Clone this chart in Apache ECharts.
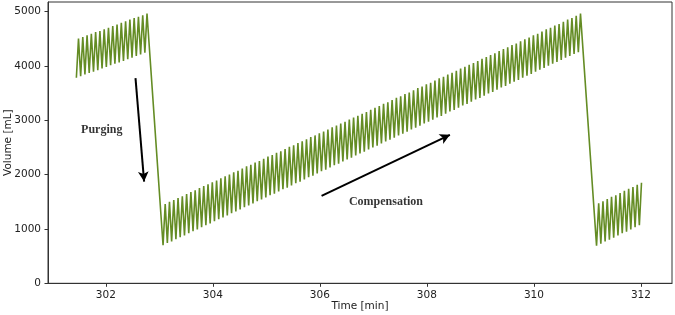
<!DOCTYPE html>
<html><head><meta charset="utf-8">
<script src="https://cdn.jsdelivr.net/npm/echarts@6/dist/echarts.min.js"></script>
<style>html,body{margin:0;padding:0;background:#fff}#c{width:675px;height:315px}</style>
</head><body><div id="c"></div>
<script>
// Sawtooth volume data (trough / peak of each cycle)
const seg1Troughs=[3780,3810,3840,3870,3890,3920,3950,3980,4010,4040,4060,4090,4120,4150,4180,4210,4240];
const seg1Peaks=[4500,4530,4560,4590,4620,4640,4670,4700,4730,4760,4790,4820,4850,4880,4900,4930,4960];
const seg2Troughs=[700,740,770,810,850,880,920,960,990,1030,
1070,1100,1140,1180,1210,1250,1290,1320,1360,1400,
1430,1470,1510,1540,1580,1620,1650,1690,1730,1760,
1800,1840,1870,1910,1950,1980,2020,2060,2090,2130,
2170,2200,2240,2280,2310,2350,2390,2420,2460,2500,
2530,2570,2610,2640,2680,2720,2750,2790,2830,2860,
2900,2940,2970,3010,3050,3080,3120,3160,3190,3230,
3270,3300,3340,3380,3410,3450,3490,3520,3560,3600,
3630,3670,3710,3740,3780,3820,3850,3890,3930,3960,
4000,4040,4070,4110,4150,4180,4220,4250];
const seg2Peaks=[1460,1500,1530,1570,1600,1640,1680,1710,1750,1790,
1820,1860,1890,1930,1970,2000,2040,2070,2110,2150,
2180,2220,2250,2290,2330,2360,2400,2430,2470,2510,
2540,2580,2610,2650,2690,2720,2760,2790,2830,2870,
2900,2940,2970,3010,3050,3080,3120,3150,3190,3230,
3260,3300,3330,3370,3410,3440,3480,3510,3550,3590,
3620,3660,3690,3730,3770,3800,3840,3870,3910,3950,
3980,4020,4050,4090,4130,4160,4200,4230,4270,4310,
4340,4380,4410,4450,4490,4520,4560,4590,4630,4670,
4700,4740,4770,4810,4850,4880,4920,4960];
const seg3Troughs=[690,730,770,800,840,880,920,950,990,1030,1070];
const seg3Peaks=[1470,1510,1550,1590,1620,1660,1700,1740,1770,1810,1850];
const segStartTimes=[301.45,303.07,311.17]; // time of first trough in each segment [min]
const cyclePeriod=0.08; // min per pump cycle

const xTicks=[302,304,306,308,310,312];
const yTicks=[0,1000,2000,3000,4000,5000];

const annotTexts=[{name:'Purging',t:301.925,v:2823},{name:'Compensation',t:307.234,v:1497}];
const arrows=[[[302.555,3775],[302.716,1871]],[[306.032,1608],[308.430,2731]]];

const segs=[[seg1Troughs,seg1Peaks],[seg2Troughs,seg2Peaks],[seg3Troughs,seg3Peaks]];
const data=[];
segs.forEach((s,si)=>{
  const t0=segStartTimes[si];
  for(let i=0;i<s[0].length;i++){
    data.push([+(t0+i*cyclePeriod).toFixed(3),s[0][i]]);
    data.push([+(t0+i*cyclePeriod+cyclePeriod/2).toFixed(3),s[1][i]]);
  }
});

const axisCol='#333';
const font='DejaVu Sans';
const fs=10.5;
const chart=echarts.init(document.getElementById('c'),null,{renderer:'canvas'});
chart.setOption({
  animation:false,
  grid:{left:48,right:3,top:2,bottom:31.7,show:true,borderColor:axisCol,borderWidth:1,backgroundColor:'transparent',
    containLabel:false,outerBoundsMode:'none'},
  xAxis:{type:'value',min:300.92,max:312.58,
    name:'Time [min]',nameLocation:'middle',nameGap:17,nameMoveOverlap:false,
    nameTextStyle:{fontFamily:font,fontSize:fs,color:'#222',verticalAlign:'top'},
    axisLine:{show:true,lineStyle:{color:axisCol,width:1}},
    axisTick:{show:true,length:3.5,customValues:xTicks,lineStyle:{color:axisCol}},
    axisLabel:{customValues:xTicks,fontFamily:font,fontSize:fs,color:'#222',margin:6,formatter:v=>String(v)},
    splitLine:{show:false}},
  yAxis:{type:'value',min:0,max:5174,
    name:'Volume [mL]',nameLocation:'middle',nameGap:34,nameRotate:90,nameMoveOverlap:false,
    nameTextStyle:{fontFamily:font,fontSize:fs,color:'#222'},
    axisLine:{show:true,lineStyle:{color:axisCol,width:1}},
    axisTick:{show:true,length:3.5,customValues:yTicks,lineStyle:{color:axisCol}},
    axisLabel:{customValues:yTicks,fontFamily:font,fontSize:fs,color:'#222',margin:7,formatter:v=>String(v)},
    splitLine:{show:false}},
  series:[
    {type:'line',data:data,showSymbol:false,symbol:'none',sampling:null,
     lineStyle:{color:'#648c24',width:1.6},itemStyle:{color:'#648c24'},z:2,
     markLine:{silent:true,symbol:['none','arrow'],symbolSize:[8,10],
       label:{show:false},
       lineStyle:{color:'#000',width:2,type:'solid'},
       data:arrows.map(a=>[{coord:a[0]},{coord:a[1]}])}},
    {type:'scatter',symbolSize:0,z:3,
     data:annotTexts.map(a=>({name:a.name,value:[a.t,a.v]})),
     label:{show:true,position:'inside',formatter:p=>p.name,
       fontFamily:'Liberation Serif',fontWeight:'bold',fontSize:12,color:'#000'}}
  ]
});
</script></body></html>
